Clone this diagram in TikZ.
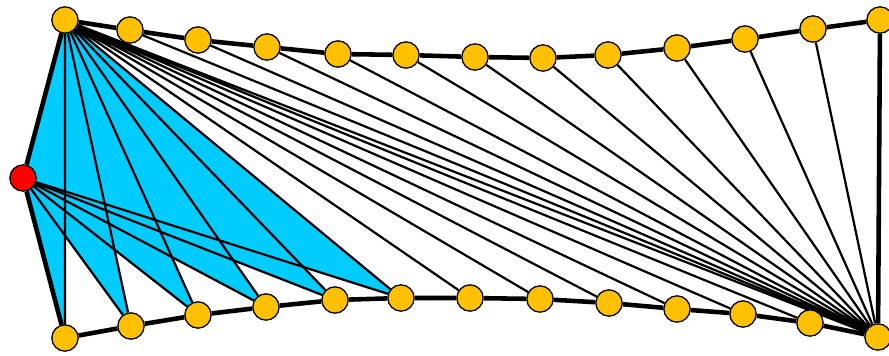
\documentclass[tikz,border=0pt]{standalone}
\usetikzlibrary{backgrounds}
\definecolor{vtx}{RGB}{255,192,0}
\definecolor{apex}{RGB}{255,0,0}
\definecolor{fan}{RGB}{0,204,255}
\tikzset{
  pt/.style={circle, draw=black, line width=1.1pt, fill=vtx,
             minimum size=7.9mm, inner sep=0pt},
  apexpt/.style={pt, fill=apex},
  hull/.style={black, line width=3.9pt},
  chord/.style={black, line width=1.9pt},
  hole/.style={fill=white},
}

\begin{document}
\begin{tikzpicture}[x=0.3mm, y=-0.3mm]
    \useasboundingbox (0,0) rectangle (889,355);
    % upper chain
    \node[pt] (t0)  at (65,20)  {};
    \node[pt] (t1)  at (130,30) {};
    \node[pt] (t2)  at (198,40) {};
    \node[pt] (t3)  at (267,47) {};
    \node[pt] (t4)  at (338,54) {};
    \node[pt] (t5)  at (406,55) {};
    \node[pt] (t6)  at (475,57) {};
    \node[pt] (t7)  at (543,58) {};
    \node[pt] (t8)  at (608,55) {};
    \node[pt] (t9)  at (677,48) {};
    \node[pt] (t10) at (745,39) {};
    \node[pt] (t11) at (813,29) {};
    \node[pt] (t12) at (880,20) {};
    % lower chain
    \node[pt] (b0)  at (65,338)  {};
    \node[pt] (b1)  at (131,326) {};
    \node[pt] (b2)  at (198,315) {};
    \node[pt] (b3)  at (266,307) {};
    \node[pt] (b4)  at (335,300) {};
    \node[pt] (b5)  at (401,298) {};
    \node[pt] (b6)  at (470,298) {};
    \node[pt] (b7)  at (540,299) {};
    \node[pt] (b8)  at (609,303) {};
    \node[pt] (b9)  at (677,309) {};
    \node[pt] (b10) at (743,314) {};
    \node[pt] (b11) at (810,323) {};
    \node[pt] (b12) at (878,337) {};
    \node[apexpt] (r) at (23,178) {};
    \begin{scope}[on background layer]
      \fill[fan] (r.center) -- (t0.center) -- (b5.center) -- (b4.center) -- (b3.center)
        -- (b2.center) -- (b1.center) -- (b0.center) -- cycle;
      \fill[hole] (b0.center) -- (b1.center) -- (intersection of t0.center--b0.center and r.center--b1.center) -- cycle;
      \fill[hole] (b1.center) -- (b2.center) -- (intersection of t0.center--b1.center and r.center--b2.center) -- cycle;
      \fill[hole] (b2.center) -- (b3.center) -- (intersection of t0.center--b2.center and r.center--b3.center) -- cycle;
      \fill[hole] (b3.center) -- (b4.center) -- (intersection of t0.center--b3.center and r.center--b4.center) -- cycle;
      \fill[hole] (b4.center) -- (b5.center) -- (intersection of t0.center--b4.center and r.center--b5.center) -- cycle;
      % fans
      \draw[chord] (t0) -- (b0) (t0) -- (b1) (t0) -- (b2) (t0) -- (b3) (t0) -- (b4) (t0) -- (b5)
        (t0) -- (b6) (t0) -- (b7) (t0) -- (b8) (t0) -- (b9) (t0) -- (b10) (t0) -- (b11) (t0) -- (b12);
      \draw[chord] (r) -- (b1) (r) -- (b2) (r) -- (b3) (r) -- (b4) (r) -- (b5);
      \draw[chord] (b12) -- (t1) (b12) -- (t2) (b12) -- (t3) (b12) -- (t4) (b12) -- (t5) (b12) -- (t6)
        (b12) -- (t7) (b12) -- (t8) (b12) -- (t9) (b12) -- (t10) (b12) -- (t11);
      % boundary
      \draw[hull] (r) -- (t0) -- (t1) -- (t2) -- (t3) -- (t4) -- (t5) -- (t6) -- (t7) -- (t8)
        -- (t9) -- (t10) -- (t11) -- (t12) -- (b12);
      \draw[hull] (r) -- (b0) -- (b1) -- (b2) -- (b3) -- (b4) -- (b5) -- (b6) -- (b7) -- (b8)
        -- (b9) -- (b10) -- (b11) -- (b12);
    \end{scope}
  \end{tikzpicture}
\end{document}
